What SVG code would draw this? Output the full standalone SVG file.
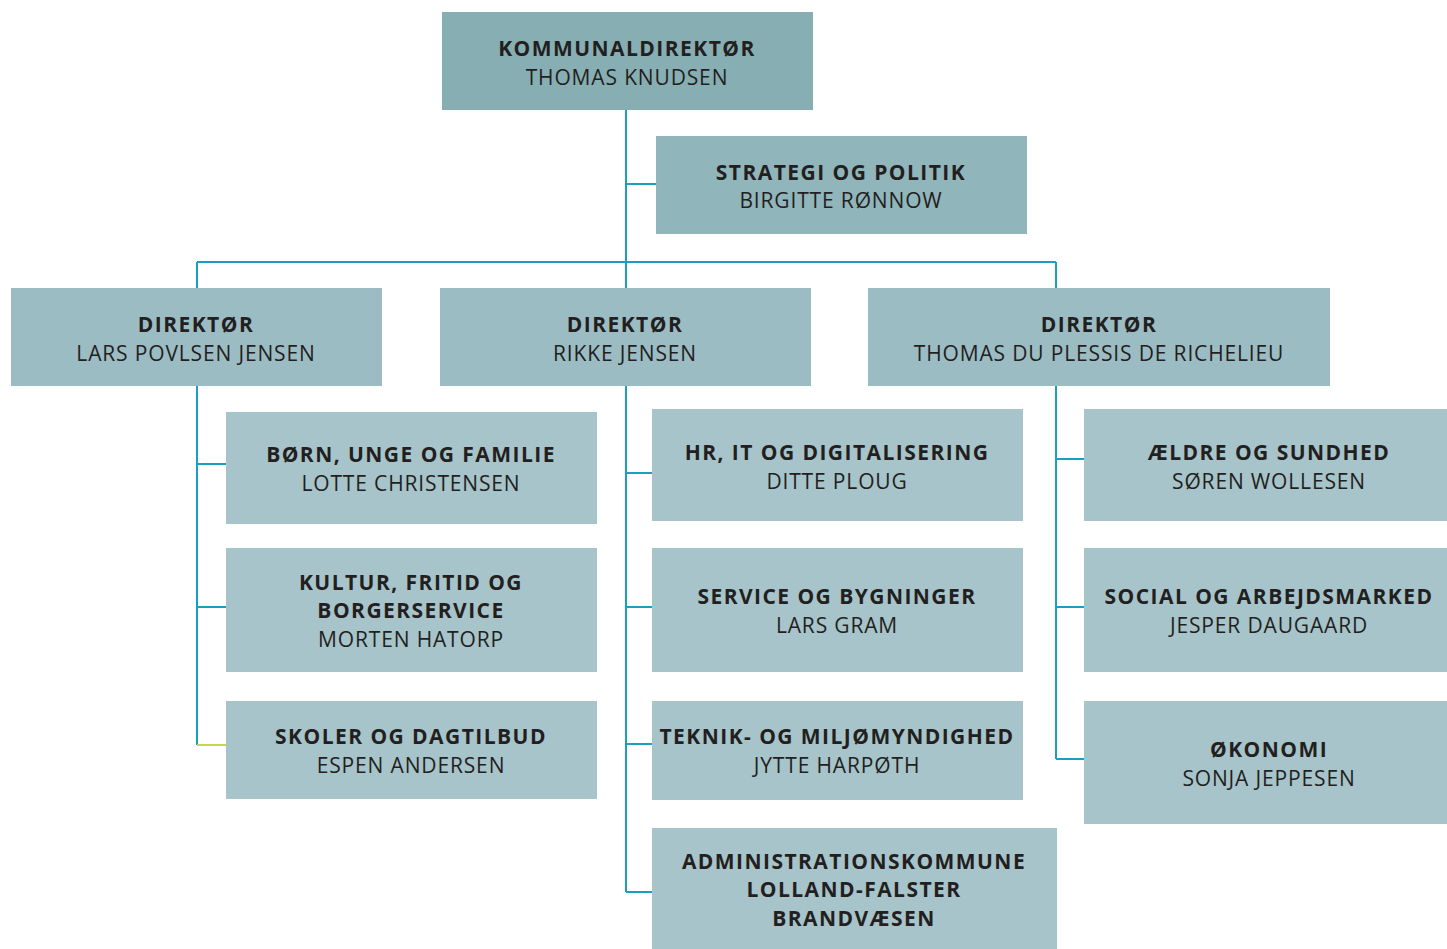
<svg xmlns="http://www.w3.org/2000/svg" width="1447" height="949" viewBox="0 0 1447 949">
<style>
.t{font-family:"Open Sans","Noto Sans","Liberation Sans",sans-serif;font-size:21px;fill:#231f20;text-anchor:middle}
.b{font-weight:700;letter-spacing:1.45px}
.r{font-weight:400;letter-spacing:0.85px}
.c0{fill:#87afb3}.c1{fill:#90b5bb}.c2{fill:#9cbcc4}.c3{fill:#a6c4ca}
.ln{fill:none;stroke:#1a9fc0;stroke-width:2}
.lg{fill:none;stroke:#c5d84a;stroke-width:2}
</style>
<rect width="1447" height="949" fill="#ffffff"/>
<g id="connectors">
<path class="ln" d="M626 110V262M626 184H656M197 262H1056M197 262V288M626 262V288M1056 262V288"/>
<path class="ln" d="M197 386V745M197 464H226M197 607H226"/>
<path class="lg" d="M197 745H226"/>
<path class="ln" d="M626 386V892M626 473H652M626 607H652M626 744H652M626 892H652"/>
<path class="ln" d="M1056 386V759M1056 459H1084M1056 607H1084M1056 759H1084"/>
</g>
<g id="kommunaldirektor"><rect class="c0" x="442" y="12" width="371" height="98"/>
<text class="t b" x="627" y="56">KOMMUNALDIREKTØR</text><text class="t r" x="627" y="85">THOMAS KNUDSEN</text></g>
<g id="strategi"><rect class="c1" x="656" y="136" width="371" height="98"/>
<text class="t b" x="841" y="180">STRATEGI OG POLITIK</text><text class="t r" x="841" y="208">BIRGITTE RØNNOW</text></g>
<g id="dir-lars"><rect class="c2" x="11" y="288" width="371" height="98"/>
<text class="t b" x="196" y="332">DIREKTØR</text><text class="t r" x="196" y="361">LARS POVLSEN JENSEN</text></g>
<g id="dir-rikke"><rect class="c2" x="440" y="288" width="371" height="98"/>
<text class="t b" x="625" y="332">DIREKTØR</text><text class="t r" x="625" y="361">RIKKE JENSEN</text></g>
<g id="dir-thomas"><rect class="c2" x="868" y="288" width="462" height="98"/>
<text class="t b" x="1099" y="332">DIREKTØR</text><text class="t r" x="1099" y="361">THOMAS DU PLESSIS DE RICHELIEU</text></g>
<g id="born"><rect class="c3" x="226" y="412" width="371" height="112"/>
<text class="t b" x="411" y="462">BØRN, UNGE OG FAMILIE</text><text class="t r" x="411" y="491">LOTTE CHRISTENSEN</text></g>
<g id="kultur"><rect class="c3" x="226" y="548" width="371" height="124"/>
<text class="t b" x="411" y="590">KULTUR, FRITID OG</text><text class="t b" x="411" y="618">BORGERSERVICE</text><text class="t r" x="411" y="647">MORTEN HATORP</text></g>
<g id="skoler"><rect class="c3" x="226" y="701" width="371" height="98"/>
<text class="t b" x="411" y="744">SKOLER OG DAGTILBUD</text><text class="t r" x="411" y="773">ESPEN ANDERSEN</text></g>
<g id="hr"><rect class="c3" x="652" y="409" width="371" height="112"/>
<text class="t b" x="837" y="460">HR, IT OG DIGITALISERING</text><text class="t r" x="837" y="489">DITTE PLOUG</text></g>
<g id="service"><rect class="c3" x="652" y="548" width="371" height="124"/>
<text class="t b" x="837" y="604">SERVICE OG BYGNINGER</text><text class="t r" x="837" y="633">LARS GRAM</text></g>
<g id="teknik"><rect class="c3" x="652" y="701" width="371" height="99"/>
<text class="t b" x="837" y="744">TEKNIK- OG MILJØMYNDIGHED</text><text class="t r" x="837" y="773">JYTTE HARPØTH</text></g>
<g id="admin"><rect class="c3" x="652" y="828" width="405" height="121"/>
<text class="t b" x="854" y="869">ADMINISTRATIONSKOMMUNE</text><text class="t b" x="854" y="897">LOLLAND-FALSTER</text><text class="t b" x="854" y="926">BRANDVÆSEN</text></g>
<g id="aeldre"><rect class="c3" x="1084" y="409" width="363" height="112"/>
<text class="t b" x="1269" y="460">ÆLDRE OG SUNDHED</text><text class="t r" x="1269" y="489">SØREN WOLLESEN</text></g>
<g id="social"><rect class="c3" x="1084" y="548" width="363" height="124"/>
<text class="t b" x="1269" y="604">SOCIAL OG ARBEJDSMARKED</text><text class="t r" x="1269" y="633">JESPER DAUGAARD</text></g>
<g id="okonomi"><rect class="c3" x="1084" y="701" width="363" height="123"/>
<text class="t b" x="1269" y="757">ØKONOMI</text><text class="t r" x="1269" y="786">SONJA JEPPESEN</text></g>
</svg>
